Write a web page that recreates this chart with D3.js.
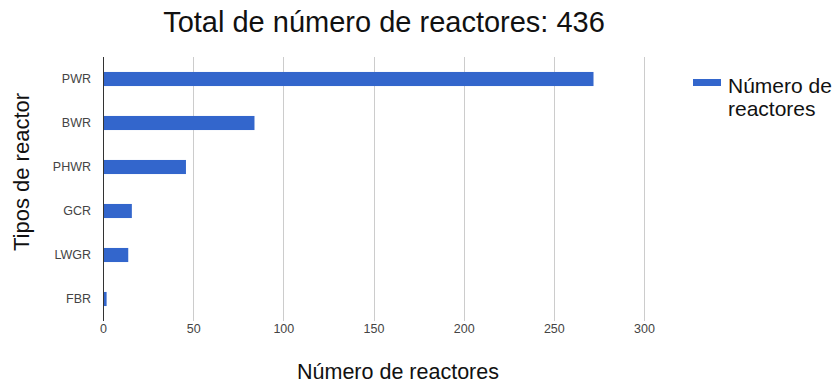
<!DOCTYPE html>
<html><head><meta charset="utf-8">
<script src="https://cdn.jsdelivr.net/npm/d3@7"></script>
<style>body{margin:0;background:#fff}svg{display:block;font-family:"Liberation Sans",Arial,sans-serif}</style>
</head><body><svg id="c" width="840" height="385"></svg>
<script>
const categories = ["PWR","BWR","PHWR","GCR","LWGR","FBR"];
const values = [272, 84, 46, 16, 14, 2];
const xTicks = [0,50,100,150,200,250,300];
const title = "Total de número de reactores: 436";
const seriesName = "Número de reactores";
const yTitle = "Tipos de reactor";
const legendLines = ["Número de", "reactores"];

const FONT = "'Liberation Sans', Arial, sans-serif";
const svg = d3.select("#c");
const x = d3.scaleLinear().domain([0,300]).range([103,644]);
const y = d3.scaleBand().domain(categories).range([57,321]).paddingInner(0.68).paddingOuter(0.34);

// gridlines
svg.append("g").selectAll("line").data(xTicks.slice(1)).join("line")
  .attr("x1",d=>Math.round(x(d))+0.5).attr("x2",d=>Math.round(x(d))+0.5).attr("y1",57).attr("y2",321)
  .attr("stroke","#cccccc").attr("stroke-width",1);

// bars
svg.append("g").selectAll("rect").data(values).join("rect")
  .attr("x",x(0)).attr("y",(d,i)=>y(categories[i]))
  .attr("width",d=>x(d)-x(0)).attr("height",y.bandwidth())
  .attr("fill","#3366cc");

// x axis labels
const xa = svg.append("g").attr("transform","translate(0,321)")
  .call(d3.axisBottom(x).tickValues(xTicks).tickSize(0).tickPadding(3));
xa.select(".domain").remove();
xa.selectAll("text").attr("font-size",12.5).attr("fill","#444").attr("font-family",FONT);

// y axis
const ya = svg.append("g").attr("transform","translate(103,0)")
  .call(d3.axisLeft(y).tickSize(0).tickPadding(12));
ya.select(".domain").remove();
ya.selectAll("text").attr("font-size",12.5).attr("fill","#444").attr("font-family",FONT);
svg.append("line").attr("x1",103.5).attr("x2",103.5).attr("y1",57).attr("y2",321).attr("stroke","#333").attr("stroke-width",1);

// title
svg.append("text").attr("x",384).attr("y",32).attr("text-anchor","middle")
  .attr("font-size",29).attr("fill","#111").text(title);
// axis titles
svg.append("text").attr("x",398).attr("y",379).attr("text-anchor","middle")
  .attr("font-size",21.5).attr("fill","#111").text(seriesName);
svg.append("text").attr("transform","translate(29,172) rotate(-90)").attr("text-anchor","middle")
  .attr("font-size",22).attr("fill","#111").text(yTitle);

// legend
svg.append("rect").attr("x",693).attr("y",79).attr("width",28).attr("height",7).attr("fill","#3366cc");
const lt = svg.append("text").attr("x",728).attr("y",93).attr("font-size",21).attr("fill","#111");
lt.selectAll("tspan").data(legendLines).join("tspan")
  .attr("x",728).attr("dy",(d,i)=>i===0?0:23).text(d=>d);
</script></body></html>
